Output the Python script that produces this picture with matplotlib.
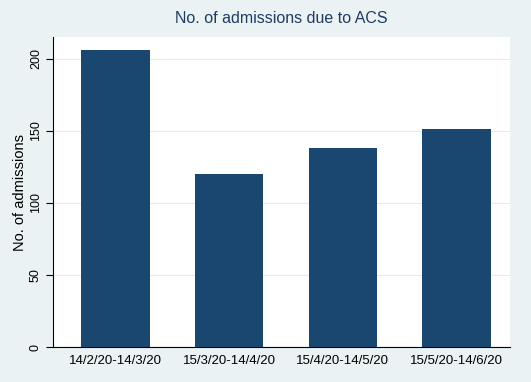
import matplotlib.pyplot as plt

plt.rcParams['font.family'] = ['Liberation Sans', 'DejaVu Sans']

# data
periods = ['14/2/20-14/3/20', '15/3/20-14/4/20', '15/4/20-14/5/20', '15/5/20-14/6/20']
admissions = [206, 120, 138, 151]
y_ticks = [0, 50, 100, 150, 200]

bg = '#EAF2F3'
navy = '#1A476F'

fig = plt.figure(figsize=(5.31, 3.82), dpi=100, facecolor=bg)
ax = fig.add_axes([0.0998, 0.0916, 0.8607, 0.8115])
ax.set_facecolor('white')

x = range(1, len(periods) + 1)
ax.bar(x, admissions, width=0.6, color=navy, zorder=3)

ax.set_xlim(0.45, 4.47)
ax.set_ylim(0, 215)
ax.set_yticks(y_ticks)
ax.set_yticklabels([str(v) for v in y_ticks], rotation=90, va='center', fontsize=9)
ax.set_xticks(list(x))
ax.set_xticklabels(periods, fontsize=9.5)
ax.tick_params(axis='x', length=0, pad=6)
ax.tick_params(axis='y', length=5, width=0.8, pad=3)

# faint horizontal grid
ax.grid(axis='y', color='#E3ECEE', linewidth=0.8, zorder=0)

for s in ['top', 'right']:
    ax.spines[s].set_visible(False)
ax.spines['left'].set_linewidth(0.8)
ax.spines['bottom'].set_linewidth(0.8)

ax.set_ylabel('No. of admissions', fontsize=10.5, labelpad=2)
ax.set_title('No. of admissions due to ACS', fontsize=11.5, color='#1E3C64', pad=10)

fig.savefig('out.png', dpi=100, facecolor=bg)
